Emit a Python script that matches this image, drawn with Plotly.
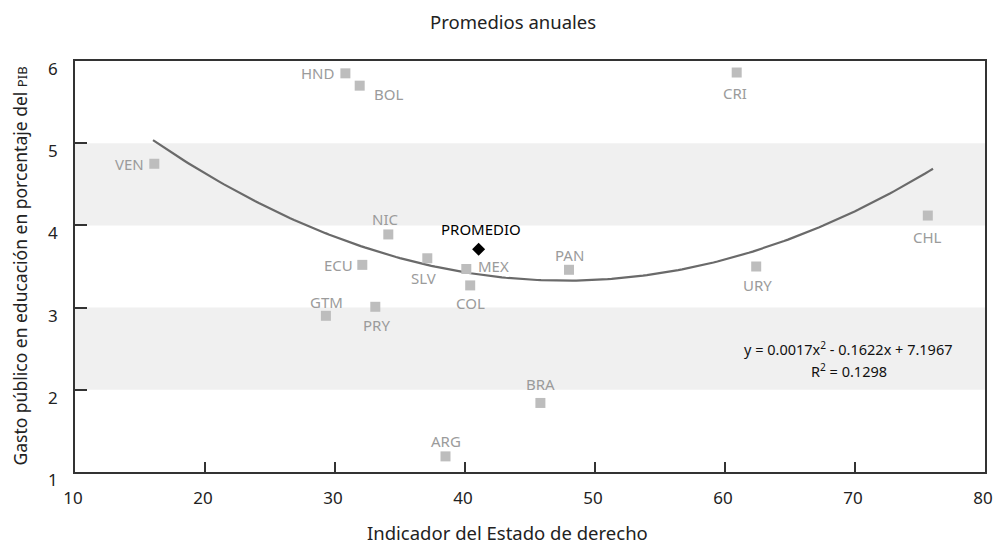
import numpy as np
import plotly.graph_objects as go

# ---- data ----
countries = ["HND", "BOL", "VEN", "NIC", "ECU", "SLV", "MEX", "COL", "PAN",
             "CRI", "CHL", "URY", "GTM", "PRY", "ARG", "BRA"]
rule_of_law = [30.8, 31.9, 16.1, 34.1, 32.1, 37.1, 40.1, 40.4, 48.0,
               60.9, 75.6, 62.4, 29.3, 33.1, 38.5, 45.8]
education_spend = [5.85, 5.70, 4.75, 3.89, 3.52, 3.60, 3.47, 3.27, 3.46,
                   5.86, 4.12, 3.50, 2.90, 3.01, 1.19, 1.84]
avg_label = "PROMEDIO"
avg_x = [41.05]
avg_y = [3.71]
# trend line coefficients as printed on the chart
trend_a, trend_b, trend_c = 0.0017, -0.1622, 7.1967
trend_range = [16.0, 76.0]
r2 = 0.1298
x_ticks = [10, 20, 30, 40, 50, 60, 70, 80]
y_ticks = [1, 2, 3, 4, 5, 6]
bands = [(2, 3), (4, 5)]

# ---- label offsets (style, px) ----
label_offsets = {
    "HND": (-8, 0, "right"), "BOL": (12, -8, "left"), "VEN": (-8, 0, "right"),
    "NIC": (-3, 15, "center"), "ECU": (-7, 0, "right"), "SLV": (-4, -20, "center"),
    "MEX": (10, 3, "left"), "COL": (0, -18, "center"), "PAN": (0, 15, "center"),
    "CRI": (-2, -20, "center"), "CHL": (0, -21, "center"), "URY": (1, -18, "center"),
    "GTM": (1, 14, "center"), "PRY": (1, -18, "center"), "ARG": (0, 15, "center"),
    "BRA": (0, 19, "center"),
}

FONT = "Noto Sans"
LABEL_GRAY = "#9b9b9b"
AXIS = "#333333"
TXT = "#222222"

fig = go.Figure()

xs = np.linspace(trend_range[0], trend_range[1], 200)
ys = trend_a * xs ** 2 + trend_b * xs + trend_c
fig.add_trace(go.Scatter(x=xs, y=ys, mode="lines",
                         line=dict(color="#6a6a6a", width=2.2),
                         hoverinfo="skip", showlegend=False))

fig.add_trace(go.Scatter(x=rule_of_law, y=education_spend, mode="markers",
                         marker=dict(symbol="square", size=10, color="#bdbdbd"),
                         text=countries, showlegend=False))

fig.add_trace(go.Scatter(x=avg_x, y=avg_y, mode="markers",
                         marker=dict(symbol="diamond", size=10, color="#000000"),
                         showlegend=False))

annotations = []
for name, x, y in zip(countries, rule_of_law, education_spend):
    dx, dy, anchor = label_offsets[name]
    annotations.append(dict(x=x, y=y, xref="x", yref="y", text=name,
                            showarrow=False, xanchor=anchor, yanchor="middle",
                            xshift=dx, yshift=dy,
                            font=dict(family=FONT, size=15, color=LABEL_GRAY)))
annotations.append(dict(x=avg_x[0], y=avg_y[0], xref="x", yref="y", text=avg_label,
                        showarrow=False, xanchor="center", yanchor="middle",
                        xshift=2, yshift=20,
                        font=dict(family=FONT, size=15, color="#000000")))

sign_b = "-" if trend_b < 0 else "+"
eq_text = (f"y = {trend_a:.4f}x<sup>2</sup> {sign_b} {abs(trend_b):.4f}x + {trend_c:.4f}")
annotations.append(dict(x=69.5, y=2.50, xref="x", yref="y", text=eq_text,
                        showarrow=False, xanchor="center", yanchor="middle",
                        font=dict(family=FONT, size=14.5, color="#111111")))
annotations.append(dict(x=69.5, y=2.23, xref="x", yref="y",
                        text=f"R<sup>2</sup> = {r2:.4f}",
                        showarrow=False, xanchor="center", yanchor="middle",
                        font=dict(family=FONT, size=14.5, color="#111111")))

annotations.append(dict(x=0.481, y=1.095, xref="paper", yref="paper",
                        text="Promedios anuales", showarrow=False,
                        xanchor="center", yanchor="middle",
                        font=dict(family=FONT, size=18.5, color=TXT)))
annotations.append(dict(x=0.475, y=-0.146, xref="paper", yref="paper",
                        text="Indicador del Estado de derecho", showarrow=False,
                        xanchor="center", yanchor="middle",
                        font=dict(family=FONT, size=18.5, color=TXT)))
annotations.append(dict(x=-0.0615, y=0.5, xref="paper", yref="paper",
                        text="Gasto público en educación en porcentaje del "
                             "<span style='font-size:13px'>PIB</span>",
                        showarrow=False, textangle=-90,
                        xanchor="center", yanchor="middle",
                        font=dict(family=FONT, size=17.5, color=TXT)))

shapes = [dict(type="rect", xref="paper", yref="y", x0=0, x1=1, y0=lo, y1=hi,
               fillcolor="#f0f0f0", line=dict(width=0), layer="below")
          for lo, hi in bands]

fig.update_layout(
    template="none",
    width=994, height=545,
    margin=dict(l=75, r=9, t=61, b=73, autoexpand=False),
    paper_bgcolor="white", plot_bgcolor="white",
    font=dict(family=FONT, size=16, color=TXT),
    annotations=annotations, shapes=shapes, showlegend=False,
    xaxis=dict(range=[10, 80], tickvals=x_ticks, ticks="inside", ticklen=10,
               tickwidth=1.5, tickcolor=AXIS, showline=True, linecolor=AXIS,
               linewidth=1.5, mirror=True, showgrid=False, zeroline=False,
               automargin=False, ticklabeloverflow="allow",
               ticklabelstandoff=10, ticklabelshift=-2,
               tickfont=dict(family=FONT, size=17, color=TXT)),
    yaxis=dict(range=[1, 6], tickvals=y_ticks, ticks="inside", ticklen=12,
               tickwidth=1.5, tickcolor=AXIS, showline=True, linecolor=AXIS,
               linewidth=1.5, mirror=True, showgrid=False, zeroline=False,
               automargin=False, ticklabeloverflow="allow",
               ticklabelstandoff=12, ticklabelshift=8,
               tickfont=dict(family=FONT, size=17, color=TXT)),
)

fig.write_html("out.html",
               config={"displayModeBar": False},
               post_script="document.body.style.margin='0';"
                           "document.body.style.overflow='hidden';")
